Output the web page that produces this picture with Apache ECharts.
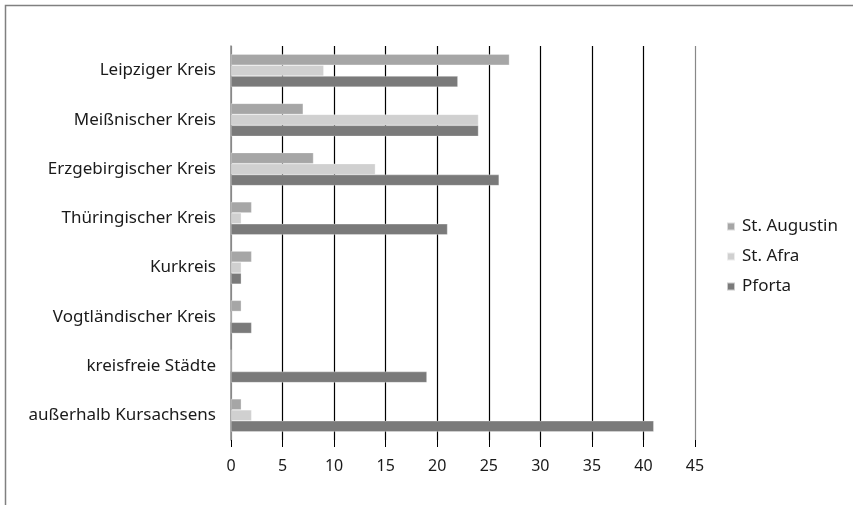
<!DOCTYPE html>
<html><head><meta charset="utf-8">
<script src="https://cdn.jsdelivr.net/npm/echarts@6/dist/echarts.min.js"></script>
<style>html,body{margin:0;padding:0;background:#fff}#c{width:853px;height:505px}</style>
</head><body><div id="c"></div>
<script>
const categories = ["Leipziger Kreis","Meißnischer Kreis","Erzgebirgischer Kreis","Thüringischer Kreis","Kurkreis","Vogtländischer Kreis","kreisfreie Städte","außerhalb Kursachsens"];
const augustin = [27, 7, 8, 2, 2, 1, 0, 1];
const afra = [9, 24, 14, 1, 1, 0, 0, 2];
const pforta = [22, 24, 26, 21, 1, 2, 19, 41];
const xTicks = {min: 0, max: 45, interval: 5};

const chart = echarts.init(document.getElementById('c'), null, {renderer: 'canvas'});
const font = 'Noto Sans';
const mk = (name, data, color) => ({
  name, type: 'bar', data, barGap: '0%', barCategoryGap: '33%',
  itemStyle: {color, borderColor: 'rgba(255,255,255,0.6)', borderWidth: 0.5},
  emphasis: {disabled: true}
});
chart.setOption({
  animation: false,
  textStyle: {fontFamily: font},
  graphic: [{type: 'rect', shape: {x: 5.5, y: 5.5, width: 900, height: 600}, style: {fill: 'none', stroke: '#808080', lineWidth: 1.5}, silent: true}],
  grid: {left: 231, right: 158, top: 46, bottom: 65, containLabel: false},
  legend: {
    orient: 'vertical', left: 726, top: 218, itemWidth: 8, itemHeight: 8, itemGap: 13, padding: 0,
    icon: 'rect', textStyle: {fontFamily: font, fontSize: 17, lineHeight: 17, color: '#1a1a1a', padding: [0,0,0,2]},
    data: ['St. Augustin', 'St. Afra', 'Pforta']
  },
  xAxis: {
    type: 'value', min: xTicks.min, max: xTicks.max, interval: xTicks.interval,
    axisLine: {show: false},
    axisTick: {show: true, length: 7, lineStyle: {color: '#000'}},
    axisLabel: {fontFamily: font, fontSize: 16, color: '#1a1a1a', margin: 18},
    splitLine: {show: true, lineStyle: {color: ['#888','#000','#000','#000','#000','#000','#000','#000','#000','#888'], width: 1.2}}
  },
  yAxis: {
    type: 'category', data: categories, inverse: true,
    axisLine: {show: true, lineStyle: {color: '#888', width: 1.5}},
    axisTick: {show: false},
    axisLabel: {fontFamily: font, fontSize: 17, color: '#1a1a1a', margin: 15}
  },
  series: [mk('St. Augustin', augustin, '#a6a6a6'), mk('St. Afra', afra, '#d0d0d0'), mk('Pforta', pforta, '#7a7a7a')]
});
</script></body></html>
